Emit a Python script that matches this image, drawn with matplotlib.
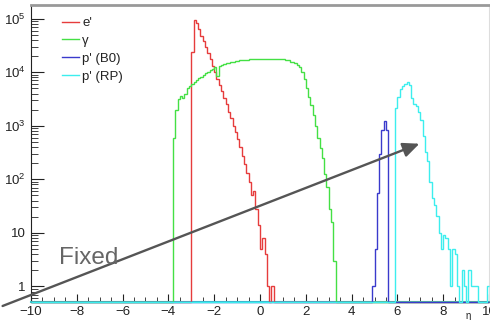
"""
Eta distributions of the final state particles (log scale, ROOT style)
"""

import numpy as np
import matplotlib
matplotlib.use('Agg')
import matplotlib.pyplot as plt
from matplotlib.patches import FancyArrowPatch
from matplotlib.ticker import FixedLocator, MultipleLocator, FuncFormatter

plt.rcParams['font.family'] = ['Liberation Sans', 'DejaVu Sans']
plt.rcParams['mathtext.fontset'] = 'custom'
plt.rcParams['mathtext.rm'] = 'Liberation Sans'
plt.rcParams['mathtext.it'] = 'Liberation Sans'

# binning: 200 bins of 0.1 from -10 to 10
eta_lo, eta_hi, bin_w = -10.0, 10.0, 0.1

labels = ["e'", "γ", "p' (B0)", "p' (RP)"]
colors = ['#e63c3c', '#44e044', '#3a3acc', '#3ceeee']

# e' : first bin starts at eta = -3.0
e_start = -3.0
e_counts = [24000, 95000, 83000, 63000, 48000, 38000, 30000, 23000, 18000, 13000,
            10000, 7600, 5800, 4400, 3300, 2500, 1800, 1400, 1000, 760,
            560, 400, 275, 190, 130, 90, 50, 60, 28, 14,
            5, 8, 4, 1, 0, 1]

# gamma : first bin starts at eta = -3.8
g_start = -3.8
g_counts = [600, 2000, 3200, 3600, 3300, 4000, 5000, 5500, 5900, 6500,
            7100, 7800, 8300, 8900, 9500, 10200, 11000, 11700, 12600, 8500,
            13200, 13800, 14500, 14800, 15100, 15500, 15800, 16200, 16200, 16600,
            16600, 17000, 17000, 17400, 17400, 17400, 17400, 17800, 17400, 17800,
            17800, 17400, 17800, 17800, 17800, 17400, 17400, 17400, 17400, 17000,
            16600, 15800, 15800, 15100, 13800, 12600, 10000, 7400, 5000, 3500,
            2400, 1600, 1000, 600, 380, 250, 125, 72, 28, 16,
            3]

# p' (B0) : first bin starts at eta = 4.9
b0_start = 4.9
b0_counts = [1, 5, 55, 300, 850, 1200, 850]

# p' (RP) : first bin starts at eta = 5.9
rp_start = 5.9
rp_counts = [2100, 3500, 4800, 5500, 5900, 6500, 5700, 3300, 2600, 2300,
             1800, 1300, 630, 320, 220, 90, 44, 33, 21, 10,
             5, 9, 8, 5, 1, 5, 4, 1, 0, 2,
             1, 0, 2, 1, 1, 1, 0, 0, 0, 0, 1]

y_min, y_max = 0.51, 1.8e5


def fill_hist(start, counts):
    n_bins = int(round((eta_hi - eta_lo) / bin_w))
    h = np.zeros(n_bins)
    i0 = int(round((start - eta_lo) / bin_w))
    h[i0:i0 + len(counts)] = counts
    # zero bins sit on the bottom of the frame like in ROOT
    return np.where(h > 0, h, y_min)


edges = np.linspace(eta_lo, eta_hi, int(round((eta_hi - eta_lo) / bin_w)) + 1)
hists = [fill_hist(e_start, e_counts), fill_hist(g_start, g_counts),
         fill_hist(b0_start, b0_counts), fill_hist(rp_start, rp_counts)]

fig = plt.figure(figsize=(4.9, 3.2), dpi=100)
ax = fig.add_axes([31 / 490, 18 / 320, 458 / 490, 297 / 320])

for h, c, lab in zip(hists, colors, labels):
    ax.stairs(h, edges, baseline=None, color=c, lw=1.0, label=lab, clip_on=False, zorder=3)

ax.set_yscale('log')
ax.set_xlim(eta_lo, eta_hi)
ax.set_ylim(y_min, y_max)

# axes frame
ax.spines['top'].set_color('#999999')
ax.spines['top'].set_linewidth(2)
ax.spines['right'].set_color('#dddddd')
ax.spines['left'].set_color('#222222')
ax.spines['bottom'].set_color('#3ccccc')
ax.spines['bottom'].set_linewidth(1.5)

# ticks
ax.xaxis.set_major_locator(MultipleLocator(2))
ax.xaxis.set_minor_locator(MultipleLocator(0.5))
ax.xaxis.set_major_formatter(FuncFormatter(lambda v, p: f"{v:.0f}".replace('-', '\u2212')))
ax.yaxis.set_major_locator(FixedLocator([1, 10, 1e2, 1e3, 1e4, 1e5]))
ax.yaxis.set_minor_locator(FixedLocator([m * 10 ** k for k in range(-1, 6) for m in range(2, 10)]))


def y_fmt(v, p):
    k = int(round(np.log10(v)))
    if k == 0:
        return '1'
    if k == 1:
        return '10'
    return r'$10^{%d}$' % k


ax.yaxis.set_major_formatter(FuncFormatter(y_fmt))
ax.tick_params(axis='both', which='both', direction='in', colors='#222222',
               labelsize=9.5, top=False, right=False)
ax.tick_params(axis='y', which='major', length=9, pad=4)
ax.tick_params(axis='y', which='minor', length=5)
ax.tick_params(axis='x', which='major', length=6, pad=3)
ax.tick_params(axis='x', which='minor', length=3.5)

fig.text(466 / 490, 1 - 316 / 320, 'η', fontsize=7, va='center', color='#222222')

# legend
fig.legend(loc='upper left', bbox_to_anchor=(62 / 490, 1 - 17 / 320), frameon=False,
           fontsize=9.5, borderpad=0, borderaxespad=0, handlelength=1.3,
           handletextpad=0.25, labelspacing=0.42, labelcolor='#222222')

# annotation arrow and text
arrow = FancyArrowPatch((0 / 490, 1 - 307 / 320), (422 / 490, 1 - 142.7 / 320),
                        transform=fig.transFigure, arrowstyle='-|>,head_length=0.9,head_width=0.4',
                        mutation_scale=11, color='#555555', lw=1.7)
fig.patches.append(arrow)
fig.text(59 / 490, 1 - 258 / 320, 'Fixed', fontsize=17.5, color='#666666', va='center', ha='left')

fig.savefig('out.png', dpi=100)
